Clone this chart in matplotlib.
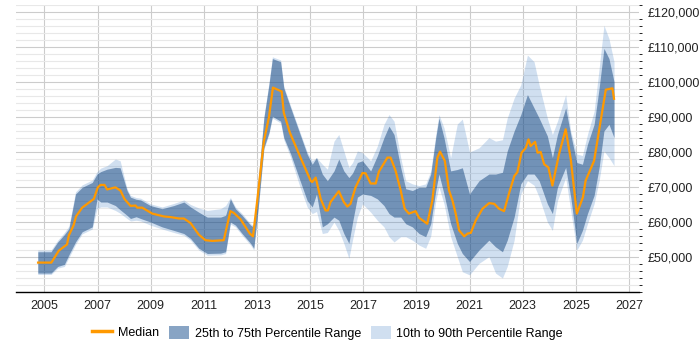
import matplotlib
matplotlib.use("Agg")
import matplotlib.pyplot as plt
from matplotlib.lines import Line2D
from matplotlib.patches import Patch
from matplotlib.ticker import MultipleLocator, FuncFormatter

plt.rcParams["font.family"] = ["Liberation Sans", "DejaVu Sans"]

# percentile bands (decimal year, values in GBP thousands)
band_years = [2004.75, 2005.25, 2005.5, 2005.75, 2005.92, 2006.17, 2006.42, 2006.8, 2006.98,
              2007.12, 2007.36, 2007.67, 2007.85, 2008.11, 2008.24, 2008.45, 2008.62, 2008.99,
              2009.43, 2009.87, 2010.25, 2010.5, 2010.81, 2011.13, 2011.63, 2011.82, 2012.0,
              2012.19, 2012.44, 2012.76, 2012.88, 2013.05, 2013.26, 2013.45, 2013.58, 2013.89,
              2014.01, 2014.27, 2014.58, 2014.89, 2015.08, 2015.24, 2015.46, 2015.65, 2015.9,
              2016.08, 2016.27, 2016.46, 2016.6, 2016.78, 2016.97, 2017.28, 2017.53, 2017.78,
              2017.97, 2018.16, 2018.41, 2018.6, 2018.85, 2019.1, 2019.35, 2019.54, 2019.73,
              2019.85, 2020.04, 2020.29, 2020.54, 2020.73, 2021.0, 2021.36, 2021.73, 2021.98,
              2022.24, 2022.42, 2022.68, 2022.93, 2023.18, 2023.43, 2023.62, 2023.93, 2024.12,
              2024.31, 2024.62, 2024.81, 2025.04, 2025.25, 2025.44, 2025.69, 2025.88, 2026.06,
              2026.25, 2026.44]
p10 = [45.0, 45.0, 46.8, 47.3, 49.8, 53.6, 56.6, 58.0, 63.8,
       64.3, 64.3, 63.3, 62.5, 61.0, 60.3, 60.5, 60.3, 59.1,
       58.0, 57.0, 56.2, 54.8, 52.0, 50.5, 50.6, 51.0, 59.4,
       58.6, 56.2, 53.4, 52.0, 63.8, 80.7, 85.0, 89.7, 88.3,
       83.5, 78.4, 70.9, 64.3, 62.4, 63.0, 56.7, 57.0, 60.0,
       57.6, 53.9, 49.6, 55.0, 61.4, 65.2, 62.8, 60.5, 58.6,
       55.8, 54.3, 55.8, 55.8, 54.8, 53.4, 52.5, 56.0, 66.0,
       70.0, 65.2, 55.8, 50.1, 45.8, 44.9, 48.2, 50.1, 45.4,
       44.0, 47.3, 54.8, 68.0, 71.8, 70.5, 67.1, 60.0, 57.6,
       66.1, 72.7, 63.3, 52.0, 54.8, 59.5, 65.2, 71.8, 80.3,
       78.4, 76.1]
p25 = [45.4, 45.4, 47.3, 47.9, 50.6, 54.3, 57.2, 58.6, 66.6,
       65.7, 65.7, 64.7, 63.5, 61.9, 61.0, 61.5, 61.0, 60.0,
       58.6, 57.6, 56.7, 55.3, 52.5, 51.0, 51.1, 51.5, 60.0,
       59.1, 56.7, 53.9, 52.5, 64.3, 81.2, 85.5, 90.2, 88.8,
       84.1, 79.4, 72.7, 66.1, 64.3, 68.0, 58.6, 59.5, 61.4,
       60.5, 56.7, 53.9, 60.0, 67.1, 68.0, 67.6, 66.6, 64.7,
       62.4, 61.4, 61.4, 59.5, 58.6, 56.7, 55.8, 59.5, 69.0,
       73.7, 68.0, 59.5, 53.9, 51.0, 48.7, 52.0, 54.8, 52.9,
       51.5, 54.8, 61.4, 70.9, 73.7, 73.7, 71.8, 65.2, 62.4,
       69.9, 75.6, 67.1, 53.9, 57.6, 62.4, 67.6, 75.6, 86.0,
       87.9, 84.1]
p75 = [51.5, 51.5, 54.3, 56.4, 58.1, 68.0, 69.9, 71.3, 73.7,
       74.4, 75.1, 75.6, 75.5, 69.0, 67.1, 66.5, 66.3, 64.7,
       63.8, 64.7, 65.7, 64.3, 62.8, 61.4, 61.4, 61.9, 66.6,
       63.8, 61.9, 59.1, 58.5, 72.0, 89.7, 99.2, 106.7, 105.8,
       98.3, 92.6, 86.0, 79.4, 76.5, 78.4, 73.7, 71.8, 74.6,
       78.0, 74.6, 72.7, 74.0, 77.0, 77.5, 74.6, 78.9, 84.1,
       87.4, 85.0, 75.6, 69.5, 69.0, 69.9, 69.9, 73.7, 84.1,
       89.7, 84.1, 74.6, 75.0, 75.5, 68.0, 71.8, 73.7, 73.7,
       74.2, 80.3, 86.0, 90.7, 96.4, 92.6, 89.7, 84.6, 78.4,
       85.0, 92.6, 85.0, 77.0, 76.5, 82.2, 87.9, 98.3, 109.6,
       106.7, 100.1]
p90 = [52.0, 52.0, 54.8, 57.0, 58.8, 68.6, 70.6, 72.0, 74.4,
       75.4, 76.1, 78.0, 77.5, 69.5, 67.6, 67.0, 66.8, 65.2,
       64.3, 65.3, 66.3, 65.0, 64.0, 63.3, 63.8, 64.7, 67.0,
       64.3, 62.4, 59.5, 59.0, 72.5, 90.2, 99.7, 107.2, 106.3,
       98.8, 93.1, 86.5, 80.0, 77.5, 78.4, 76.5, 75.1, 83.1,
       85.0, 80.3, 75.6, 77.0, 80.3, 79.8, 77.5, 81.7, 87.9,
       90.7, 88.8, 78.4, 71.8, 70.9, 70.4, 70.9, 74.5, 85.0,
       90.7, 86.9, 78.4, 88.0, 89.4, 80.0, 81.2, 84.1, 83.1,
       83.5, 89.7, 95.4, 99.2, 107.7, 105.8, 99.2, 89.7, 85.0,
       88.8, 96.4, 86.0, 79.4, 79.0, 85.0, 91.6, 103.9, 116.2,
       112.4, 105.8]

# median line
med_years = [2004.76, 2005.26, 2005.54, 2005.85, 2005.92, 2006.1, 2006.19, 2006.42, 2006.86,
             2007.01, 2007.11, 2007.26, 2007.36, 2007.67, 2007.86, 2008.01, 2008.24, 2008.43,
             2008.49, 2008.68, 2009.06, 2009.49, 2009.75, 2010.06, 2010.25, 2010.5, 2010.81,
             2011.06, 2011.32, 2011.75, 2012.0, 2012.13, 2012.38, 2012.73, 2012.85, 2013.01,
             2013.26, 2013.45, 2013.6, 2013.93, 2014.01, 2014.24, 2014.64, 2015.02, 2015.08,
             2015.21, 2015.4, 2015.58, 2015.67, 2015.77, 2016.08, 2016.27, 2016.4, 2016.52,
             2016.71, 2016.97, 2017.09, 2017.28, 2017.47, 2017.59, 2017.91, 2018.03, 2018.22,
             2018.41, 2018.56, 2018.72, 2018.97, 2019.1, 2019.23, 2019.41, 2019.6, 2019.79,
             2019.89, 2020.07, 2020.23, 2020.36, 2020.48, 2020.61, 2020.8, 2020.93, 2021.05,
             2021.24, 2021.49, 2021.74, 2021.93, 2022.11, 2022.3, 2022.5, 2022.69, 2022.8,
             2022.96, 2023.12, 2023.22, 2023.3, 2023.47, 2023.56, 2023.68, 2023.81, 2023.97,
             2024.12, 2024.37, 2024.62, 2024.81, 2025.04, 2025.27, 2025.37, 2025.69, 2026.13,
             2026.38, 2026.44]
median = [48.4, 48.4, 51.8, 53.6, 56.2, 59.1, 61.6, 64.1, 66.6,
          69.9, 70.6, 70.6, 69.3, 69.9, 69.0, 66.6, 64.6, 64.7,
          64.1, 64.1, 62.4, 61.6, 61.4, 61.0, 61.0, 59.7, 56.4,
          54.8, 54.6, 54.8, 63.1, 62.6, 60.8, 56.7, 55.9, 66.1,
          83.1, 89.9, 98.4, 97.3, 91.2, 85.5, 78.4, 71.8, 71.4,
          72.7, 66.6, 63.3, 63.3, 65.7, 68.8, 65.7, 64.4, 65.2,
          69.9, 74.0, 73.9, 71.0, 71.0, 74.4, 78.4, 78.4, 74.6,
          69.0, 63.8, 62.4, 63.1, 61.2, 60.5, 59.5, 66.1, 78.4,
          80.1, 77.5, 69.0, 66.1, 62.4, 57.6, 55.9, 56.7, 56.9,
          60.5, 63.8, 65.4, 65.2, 63.8, 63.1, 68.5, 73.2, 74.2,
          79.8, 81.2, 83.6, 81.7, 82.9, 79.8, 80.0, 76.5, 75.6,
          70.4, 79.4, 86.5, 78.0, 62.4, 67.1, 71.8, 77.5, 97.8,
          98.2, 95.2]

year_ticks = [2005, 2007, 2009, 2011, 2013, 2015, 2017, 2019, 2021, 2023, 2025, 2027]


def k(vals):
    return [v * 1000 for v in vals]


fig = plt.figure(figsize=(7, 3.5), dpi=100)
ax = fig.add_axes([16 / 700, 1 - 292 / 350, 623 / 700, 287 / 350])

ax.fill_between(band_years, k(p10), k(p90), color=(0.27, 0.51, 0.78), alpha=0.25, lw=0)
ax.fill_between(band_years, k(p25), k(p75), color=(0.04, 0.24, 0.47), alpha=0.47, lw=0)
ax.plot(med_years, k(median), color="#ff9900", lw=1.6)

ax.set_xlim(2003.93, 2027.38)
ax.set_ylim(40000, 122000)
ax.set_xticks(year_ticks)
ax.yaxis.set_major_locator(MultipleLocator(10000))
ax.yaxis.set_minor_locator(MultipleLocator(2000))
ax.set_yticks([50000, 60000, 70000, 80000, 90000, 100000, 110000, 120000])
ax.yaxis.set_major_formatter(FuncFormatter(lambda v, p: "£{:,.0f}".format(v)))
ax.yaxis.tick_right()
ax.tick_params(axis="both", length=0, labelsize=9, colors="#222222")
ax.tick_params(axis="y", pad=6)
ax.tick_params(axis="x", pad=6)

ax.set_axisbelow(True)
ax.grid(axis="x", color="#cccccc", lw=0.8)
ax.grid(axis="y", which="major", color="#cccccc", lw=0.8)
ax.grid(axis="y", which="minor", color="#e8e8e8", lw=0.8)
for s in ["top", "left", "right"]:
    ax.spines[s].set_visible(False)
ax.spines["bottom"].set_color("black")
ax.spines["bottom"].set_linewidth(1.0)

handles = [Line2D([0], [0], color="#ff9900", lw=2.5),
           Patch(facecolor="#88a4c4", edgecolor="none"),
           Patch(facecolor="#d0dff0", edgecolor="none")]
labels = ["Median", "25th to 75th Percentile Range", "10th to 90th Percentile Range"]
fig.legend(handles, labels, loc="center", bbox_to_anchor=(0.468, 0.05), ncol=3, frameon=False,
           fontsize=9, handlelength=1.6, handleheight=1.3, columnspacing=0.8, handletextpad=0.45)

fig.savefig("out.png", dpi=100)
